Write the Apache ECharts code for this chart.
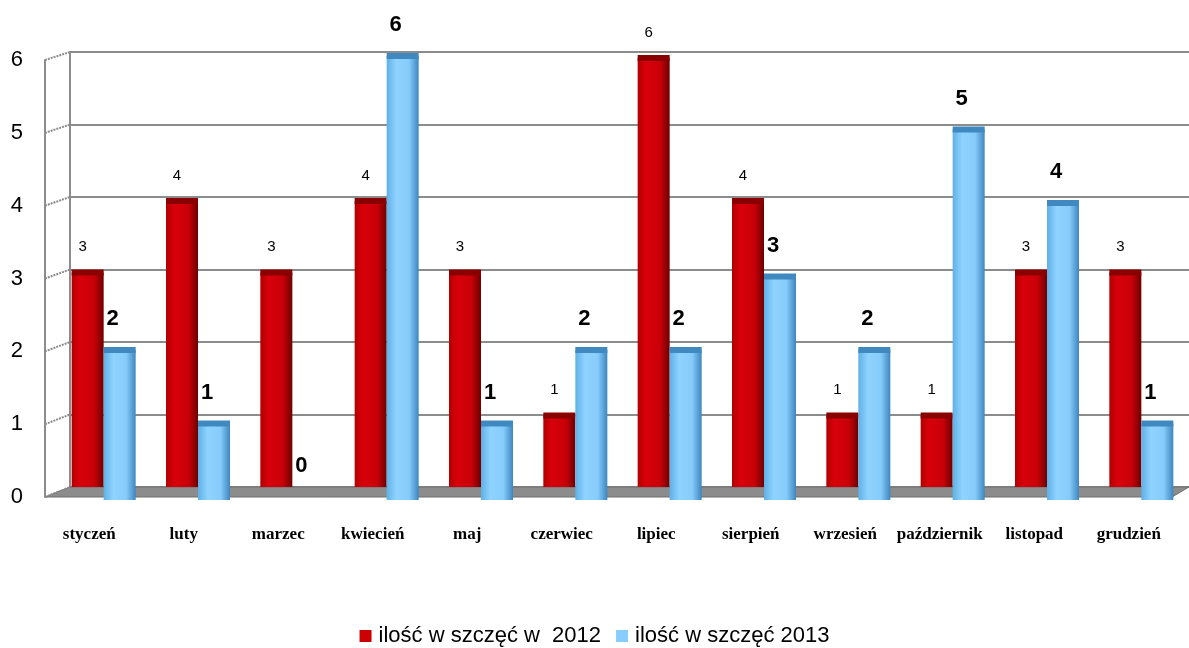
<!DOCTYPE html>
<html><head><meta charset="utf-8">
<script src="https://cdn.jsdelivr.net/npm/echarts@6/dist/echarts.min.js"></script>
<style>html,body{margin:0;padding:0;background:#fff}#c{width:1189px;height:648px}</style>
</head><body><div id="c"></div>
<script>
const categories = ['styczeń','luty','marzec','kwiecień','maj','czerwiec','lipiec','sierpień','wrzesień','październik','listopad','grudzień'];
const values2012 = [3,4,3,4,3,1,6,4,1,1,3,3];
const values2013 = [2,1,0,6,1,2,2,3,2,5,4,1];
const seriesNames = ['ilość w szczęć w  2012','ilość w szczęć 2013'];
const yTicks = [0,1,2,3,4,5,6];

const RED = '#cc0000', BLUE = '#87cdff';
const redGrad = new echarts.graphic.LinearGradient(0,0,1,0,[
  {offset:0,color:'#b00000'},{offset:0.25,color:'#d8000a'},{offset:0.7,color:'#c80008'},{offset:1,color:'#6e0000'}]);
const blueGrad = new echarts.graphic.LinearGradient(0,0,1,0,[
  {offset:0,color:'#5fb0e6'},{offset:0.3,color:'#8fd3ff'},{offset:0.7,color:'#86ccfb'},{offset:1,color:'#3d86bf'}]);

const chart = echarts.init(document.getElementById('c'));
const catAxisHidden = (gi)=>({type:'category',gridIndex:gi,data:categories,show:false});
const valAxisHidden = (gi)=>({type:'value',gridIndex:gi,min:0,max:6,interval:1,show:false});

chart.setOption({
  animation:false,
  textStyle:{fontFamily:'Liberation Sans, Arial, sans-serif'},
  grid:[
    {left:45,top:60,width:1134,bottom:151},    // front axis
    {left:70,right:0,top:52,bottom:161},       // back wall
    {left:56.5,width:1132,top:58,bottom:161},  // 2012 bars
    {left:56.5,width:1132,top:56,bottom:151}   // 2013 bars
  ],
  xAxis:[
    {type:'category',gridIndex:0,data:categories,axisLine:{show:false},axisTick:{show:false},
     axisLabel:{margin:29,padding:[0,6,0,0],color:'#000',fontFamily:'Liberation Serif, Times New Roman, serif',fontWeight:'bold',fontSize:17,interval:0}},
    catAxisHidden(1),catAxisHidden(2),catAxisHidden(3)
  ],
  yAxis:[
    {type:'value',gridIndex:0,min:0,max:6,interval:1,
     axisLine:{show:true,lineStyle:{color:'#8c8c8c',width:2}},axisTick:{show:false},splitLine:{show:false},
     axisLabel:{color:'#000',fontSize:22,margin:22}},
    {type:'value',gridIndex:1,min:0,max:6,interval:1,
     axisLine:{show:true,lineStyle:{color:'#8c8c8c',width:2}},axisTick:{show:false},axisLabel:{show:false},
     splitLine:{show:true,lineStyle:{color:'#8c8c8c',width:2}}},
    valAxisHidden(2),valAxisHidden(3)
  ],
  legend:{bottom:-4,left:'center',itemWidth:12,itemHeight:12,itemGap:15,
    textStyle:{fontSize:22,color:'#000',padding:[0,0,0,2]},
    data:[{name:seriesNames[0],icon:'rect',itemStyle:{color:RED}},{name:seriesNames[1],icon:'rect',itemStyle:{color:BLUE}}]},
  series:[
    {name:seriesNames[0],type:'bar',xAxisIndex:2,yAxisIndex:2,data:values2012,barWidth:32,barGap:0,z:3,
     itemStyle:{color:redGrad},
     label:{show:true,position:'top',distance:18,offset:[-5,0],color:'#000',fontSize:15}},
    {type:'bar',xAxisIndex:2,yAxisIndex:2,data:[],barWidth:32,barGap:0,silent:true},
    {name:seriesNames[0],type:'pictorialBar',xAxisIndex:2,yAxisIndex:2,data:values2012,symbol:'ellipse',
     symbolSize:[32,6],symbolPosition:'end',symbolOffset:[-16,'-50%'],z:4,itemStyle:{color:'#8a0000'}},
    {type:'bar',xAxisIndex:3,yAxisIndex:3,data:[],barWidth:32,barGap:0,silent:true},
    {name:seriesNames[1],type:'bar',xAxisIndex:3,yAxisIndex:3,data:values2013,barWidth:32,barGap:0,z:5,
     itemStyle:{color:blueGrad},
     label:{show:true,position:'top',distance:20,offset:[-7,0],color:'#000',fontSize:22,fontWeight:'bold'}},
    {name:seriesNames[1],type:'pictorialBar',xAxisIndex:3,yAxisIndex:3,
     data:values2013.map(v=>v===0?{value:v,symbolSize:[0,0]}:v),symbol:'ellipse',
     symbolSize:[32,6],symbolPosition:'end',symbolOffset:[16,'-50%'],z:6,itemStyle:{color:'#3f88c0'}},
    {name:seriesNames[1],type:'pictorialBar',xAxisIndex:3,yAxisIndex:3,
     data:values2013.map(v=>v===0?{value:v,symbolSize:[0,0]}:v),symbol:'ellipse',
     symbolSize:[32,6],symbolPosition:'start',symbolOffset:[16,'50%'],z:5,itemStyle:{color:blueGrad}}
  ]
});

// decorative 3D floor and slanted ticks, positioned from axis scales
function decorate(){
  const fr0 = chart.convertToPixel({xAxisIndex:0,yAxisIndex:0},[0,0]);
  const bk0 = chart.convertToPixel({xAxisIndex:1,yAxisIndex:1},[0,0]);
  const fx = 45, bx = 70, rightBack = 1189, rightFront = 1172;
  const els = [{type:'polygon',z:1,shape:{points:[[bx,bk0[1]],[rightBack,bk0[1]],[rightFront,fr0[1]],[fx,fr0[1]]]},
     style:{fill:'#8c8c8c',stroke:'#6e6e6e',lineWidth:1}}];
  yTicks.forEach(v=>{
    const yf = chart.convertToPixel({yAxisIndex:0},v);
    const yb = chart.convertToPixel({yAxisIndex:1},v);
    els.push({type:'line',z:1,shape:{x1:fx,y1:yf,x2:bx,y2:yb},style:{stroke:'#8c8c8c',lineWidth:2,lineDash:[2,1]}});
  });
  chart.setOption({graphic:{elements:els}});
}
decorate();
</script></body></html>
